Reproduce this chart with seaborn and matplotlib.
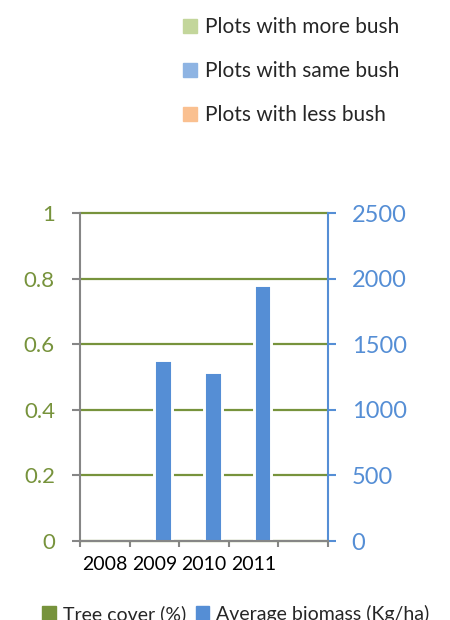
import pandas as pd
import matplotlib.pyplot as plt
import seaborn as sns
from matplotlib.patches import Patch

# Daten
years = ["2008", "2009", "2010", "2011", ""]
tree_cover = [0, 0, 0, 0]
biomass = [None, 1380, 1290, 1955]
series = ["Tree cover (%)", "Average biomass (Kg/ha)"]
left_ticks = [0, 0.2, 0.4, 0.6, 0.8, 1]
left_labels = ["0", "0.2", "0.4", "0.6", "0.8", "1"]
right_ticks = [0, 500, 1000, 1500, 2000, 2500]
top_legend = ["Plots with more bush", "Plots with same bush", "Plots with less bush"]

# Farben
green = "#77933C"
blue = "#558ED5"
grey = "#868686"
top_colors = ["#C3D69B", "#8EB4E3", "#FAC090"]

tree_df = pd.DataFrame({"year": years[:4], "value": tree_cover, "series": series[0]})
bio_df = pd.DataFrame({"year": years[:4], "value": biomass, "series": series[1]}).dropna()

sns.set_theme(style="white")
plt.rcParams["font.family"] = ["Lato", "DejaVu Sans"]

fig = plt.figure(figsize=(4.5, 6.2), dpi=100)
ax = fig.add_axes([80 / 450, 1 - 541 / 620, 248 / 450, 328 / 620])
ax2 = ax.twinx()

pal = {series[0]: green, series[1]: blue}
sns.barplot(data=tree_df, x="year", y="value", hue="series", hue_order=series,
            order=years, palette=pal, width=0.72, dodge=True, saturation=1,
            linewidth=0, ax=ax, legend=False)
sns.barplot(data=bio_df, x="year", y="value", hue="series", hue_order=series,
            order=years, palette=pal, width=0.72, dodge=True, saturation=1,
            edgecolor="white", linewidth=2.1, ax=ax2, legend=False)

for a in (ax, ax2):
    a.set_xlim(-0.5, 4.5)
    a.set_xlabel("")
    a.set_ylabel("")
    a.grid(False)

ax.set_ylim(0, 1)
ax2.set_ylim(0, 2500)
ax.set_yticks(left_ticks)
ax.set_yticklabels(left_labels)
ax2.set_yticks(right_ticks)
ax.grid(axis="y", color=green, linewidth=1.6)
ax.set_axisbelow(True)
for gl in ax.get_ygridlines():
    gl.set_clip_on(False)

# Achsenlinien: Grundlinie auf ax2, damit sie über den Balken liegt
for a in (ax, ax2):
    a.spines["top"].set_visible(False)
ax.spines["right"].set_visible(False)
ax.spines["bottom"].set_visible(False)
ax2.spines["left"].set_visible(False)
ax2.spines["bottom"].set_color(grey)
ax2.spines["bottom"].set_linewidth(1.5)
ax.spines["left"].set_color(grey)
ax.spines["left"].set_linewidth(1.5)
ax2.spines["right"].set_color(blue)
ax2.spines["right"].set_linewidth(1.5)

ax.tick_params(axis="y", left=True, length=6, width=1.5, color=grey, pad=12,
               labelsize=16, labelcolor=green)
ax2.tick_params(axis="y", right=True, length=6, width=1.5, color=blue, pad=11,
                labelsize=17, labelcolor=blue)
ax.set_xticks([i - 0.5 for i in range(6)], minor=True)
ax.tick_params(axis="x", which="major", length=0, pad=11, labelsize=14, labelcolor="black")
ax.tick_params(axis="x", which="minor", bottom=True, length=4.5, width=1.5, color=grey)
ax2.tick_params(axis="x", bottom=False, labelbottom=False)

# Legende oben (Serien ohne Werte)
fig.legend(handles=[Patch(color=c) for c in top_colors], labels=top_legend,
           loc="upper left", bbox_to_anchor=(183 / 450, 1 - 17 / 620), frameon=False,
           fontsize=15, handlelength=0.65, handleheight=0.65, handletextpad=0.4,
           labelspacing=1.15, borderpad=0, borderaxespad=0)

# Legende unten (wie im Original am unteren Rand angeschnitten)
fig.legend(handles=[Patch(color=green), Patch(color=blue)], labels=series,
           loc="center", bbox_to_anchor=(236 / 450, 1 - 614 / 620), ncol=2,
           frameon=False, fontsize=14, handlelength=0.7, handleheight=0.7,
           handletextpad=0.35, columnspacing=0.5, borderpad=0, borderaxespad=0)

fig.savefig("out.png", dpi=100)
plt.close(fig)
